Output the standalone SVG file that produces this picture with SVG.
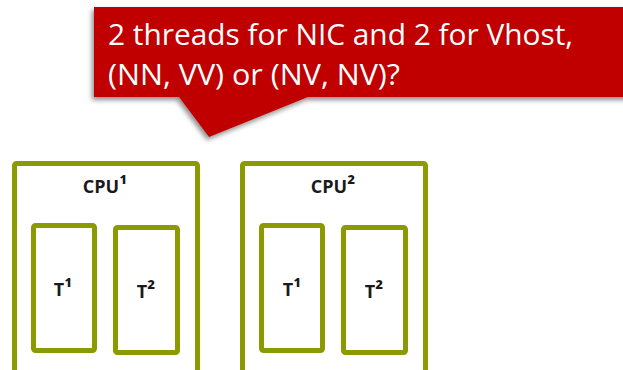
<svg xmlns="http://www.w3.org/2000/svg" width="623" height="370" viewBox="0 0 623 370">
<defs>
<filter id="sh" x="-10%" y="-10%" width="130%" height="140%">
<feGaussianBlur in="SourceAlpha" stdDeviation="2.5"/>
<feOffset dx="-2" dy="3" result="b"/>
<feComponentTransfer><feFuncA type="linear" slope="0.45"/></feComponentTransfer>
<feMerge><feMergeNode/><feMergeNode in="SourceGraphic"/></feMerge>
</filter>
</defs>
<style>
.box{fill:#ffffff;stroke:#8a9a00;stroke-width:5;stroke-linejoin:round}
.lbl{font-family:"Open Sans","Noto Sans",sans-serif;font-weight:bold;font-size:18px;fill:#1a1a1a;text-anchor:middle}
.sup{font-size:21px}
.call{font-family:"Open Sans","Noto Sans",sans-serif;font-size:29px;fill:#ffffff}
</style>
<g id="callout">
<path d="M94,7 H640 V97 H308 L209,137 L179,97 H94 Z" fill="#c00000" filter="url(#sh)"/>
<text class="call" x="108" y="45" textLength="465" lengthAdjust="spacingAndGlyphs">2 threads for NIC and 2 for Vhost,</text>
<text class="call" x="108" y="85" textLength="292" lengthAdjust="spacingAndGlyphs">(NN, VV) or (NV, NV)?</text>
</g>
<g id="cpu1">
<rect class="box" x="14.5" y="163.5" width="183" height="220" rx="2"/>
<text class="lbl" x="105" y="193">CPU<tspan class="sup">¹</tspan></text>
</g>
<g id="cpu1-t1">
<rect class="box" x="33.5" y="225.5" width="61" height="125" rx="2"/>
<text class="lbl" x="63" y="296">T<tspan class="sup">¹</tspan></text>
</g>
<g id="cpu1-t2">
<rect class="box" x="115.5" y="227.5" width="62" height="125" rx="2"/>
<text class="lbl" x="146" y="298">T<tspan class="sup">²</tspan></text>
</g>
<g id="cpu2">
<rect class="box" x="242.5" y="163.5" width="183" height="220" rx="2"/>
<text class="lbl" x="333" y="193">CPU<tspan class="sup">²</tspan></text>
</g>
<g id="cpu2-t1">
<rect class="box" x="261.5" y="225.5" width="61" height="125" rx="2"/>
<text class="lbl" x="292" y="296">T<tspan class="sup">¹</tspan></text>
</g>
<g id="cpu2-t2">
<rect class="box" x="343.5" y="227.5" width="62" height="125" rx="2"/>
<text class="lbl" x="374" y="298">T<tspan class="sup">²</tspan></text>
</g>
<g id="connectors"/>
</svg>
